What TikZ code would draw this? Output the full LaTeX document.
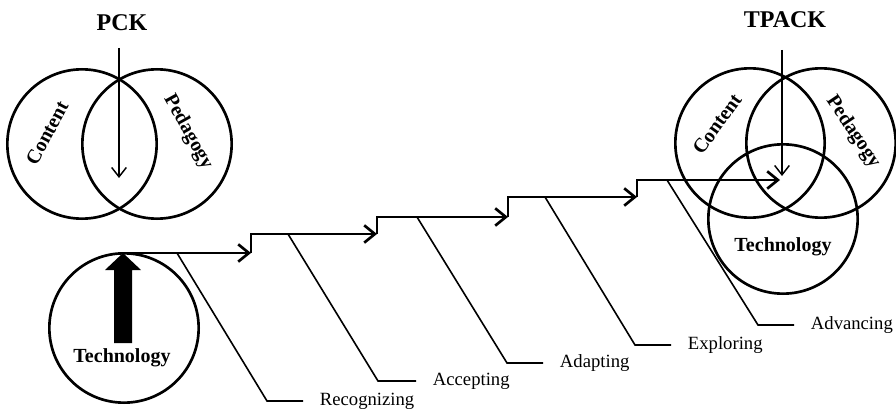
\documentclass[tikz,border=0pt]{standalone}
\usepackage{fontspec}
\setmainfont{Liberation Serif}
\usetikzlibrary{arrows.meta}

\tikzset{
	ring/.style = {draw, circle, line width = 2pt, minimum size = 112pt, inner sep = 0pt},
	stair/.style = {line width = 2pt, line join = miter, -{Straight Barb[length = 8pt, width = 13pt]}},
	drop/.style = {line width = 1.1pt, -{Straight Barb[length = 7pt, width = 11pt]}},
	leader/.style = {line width = 1.2pt},
	title/.style = {font = \fontsize{18}{20}\selectfont\bfseries, inner sep = 0pt},
	field/.style = {font = \fontsize{15}{17}\selectfont\bfseries, inner sep = 0pt},
	stage/.style = {font = \fontsize{14}{16}\selectfont, anchor = west, inner xsep = 12.5pt, inner ysep = 0pt}
}

\begin{document}
\begin{tikzpicture}[x = 0.75pt, y = -0.75pt]
			\useasboundingbox (0,0) rectangle (896,410);

			\begin{scope}
				\node[title] (pck) at (122,23) {PCK};
				\node[ring] (pckC) at (82,144) {};
				\node[ring] (pckP) at (157,144) {};
				\node[field, rotate = 62] (pckCt) at (47,133) {Content};
				\node[field, rotate = -61] (pckPt) at (188,132) {Pedagogy};
				\coordinate (pckTop) at (119,48);
				\coordinate (pckEnd) at (119,178);
				\draw[drop] (pckTop) -- (pckEnd);
			\end{scope}

			\begin{scope}
				\node[ring] (tech) at (124,328) {};
				\node[field] (techT) at (122,358) {Technology};
				\fill (114,343) -- (114,270) -- (105,270) -- (123,253) -- (141,270) -- (132,270) -- (132,343) -- cycle;
			\end{scope}

			\begin{scope}
				\node[title] (tpack) at (785,20) {TPACK};
				\node[ring] (tpC) at (750,143) {};
				\node[ring] (tpP) at (821,143) {};
				\node[ring] (tpT) at (783,219) {};
				\node[field, rotate = 54] (tpCt) at (717,124) {Content};
				\node[field, rotate = -56] (tpPt) at (853,132) {Pedagogy};
				\node[field] (tpTt) at (783,247) {Technology};
				\coordinate (tpTop) at (782,50);
				\coordinate (tpEnd) at (782,176);
				\draw[drop] (tpTop) -- (tpEnd);
			\end{scope}

			\begin{scope}
				\coordinate (t0) at (123,253);
				\coordinate (a1) at (251,253);
				\coordinate (c1) at (251,234);
				\coordinate (a2) at (377,234);
				\coordinate (c2) at (377,217);
				\coordinate (a3) at (508,217);
				\coordinate (c3) at (508,197);
				\coordinate (a4) at (637,197);
				\coordinate (c4) at (637,180);
				\coordinate (a5) at (780,180);
				\draw[stair] (t0) -- (a1);
				\draw[stair] (a1) -- (c1) -- (a2);
				\draw[stair] (a2) -- (c2) -- (a3);
				\draw[stair] (a3) -- (c3) -- (a4);
				\draw[stair] (a4) -- (c4) -- (a5);
			\end{scope}

			\begin{scope}
				\coordinate (d1) at (177,253);
				\coordinate (e1) at (267,401);
				\coordinate (d2) at (288,234);
				\coordinate (e2) at (378,381);
				\coordinate (d3) at (417,217);
				\coordinate (e3) at (507,363);
				\coordinate (d4) at (545,197);
				\coordinate (e4) at (635,345);
				\coordinate (d5) at (667,180);
				\coordinate (e5) at (758,325);
				\node[stage] (rec) at (303,401) {Recognizing};
				\node[stage] (acc) at (416,381) {Accepting};
				\node[stage] (ada) at (543,363) {Adapting};
				\node[stage] (exp) at (671,345) {Exploring};
				\node[stage] (adv) at (794,325) {Advancing};
				\draw[leader] (d1) -- (e1) -- (rec.west);
				\draw[leader] (d2) -- (e2) -- (acc.west);
				\draw[leader] (d3) -- (e3) -- (ada.west);
				\draw[leader] (d4) -- (e4) -- (exp.west);
				\draw[leader] (d5) -- (e5) -- (adv.west);
			\end{scope}
		\end{tikzpicture}
\end{document}
